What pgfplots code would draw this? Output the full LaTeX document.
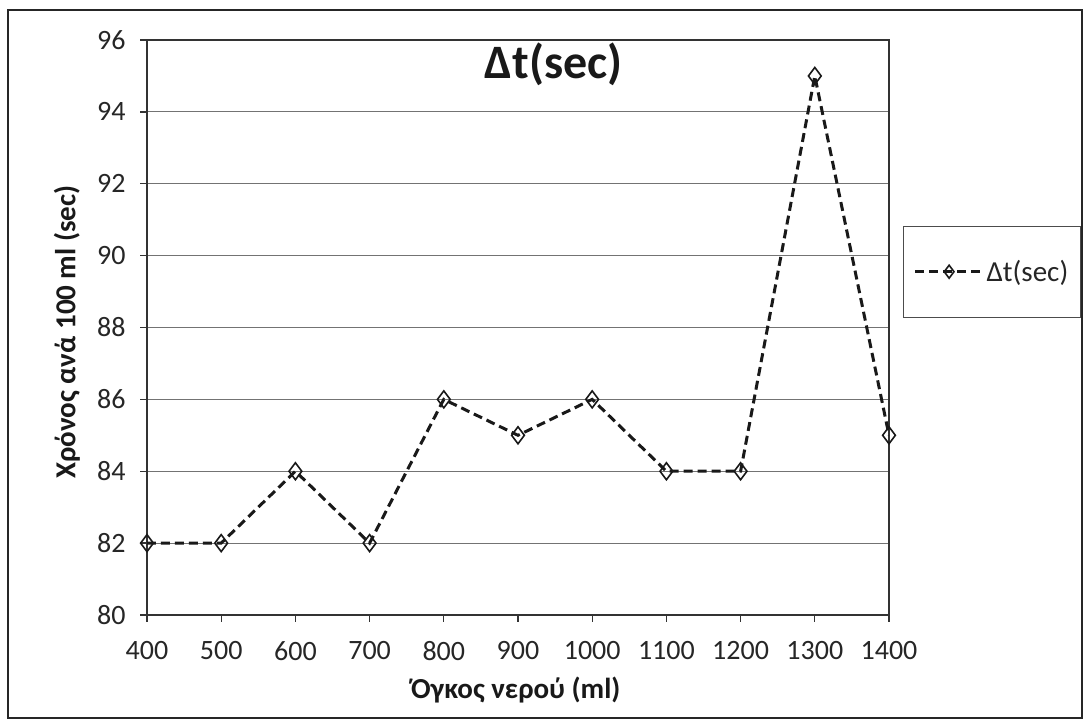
\documentclass[border=0pt]{standalone}
\usepackage{fontspec}
\setmainfont{Carlito}
\usepackage{pgfplots}
\pgfplotsset{compat=1.18}
\begin{document}
\begin{tikzpicture}
\path (-147pt,-107pt) rectangle (941pt,615pt);
\draw[line width=2.5pt, black!85] (-139pt,-103pt) rectangle (935pt,605pt);
\begin{axis}[anchor=south west, scale only axis,
  width=742pt, height=575pt,
  xmin=400, xmax=1400, ymin=80, ymax=96,
  xtick={400,500,...,1400}, ytick={80,82,...,96},
  ymajorgrids, grid style={black!55, line width=1pt},
  axis line style={black!80, line width=1.3pt},
  tick align=outside, major tick length=7pt,
  tick style={black!80, line width=1.3pt},
  xtick pos=bottom, ytick pos=left,
  ticklabel style={font=\fontsize{28}{32}\selectfont, text=black!85},
  xticklabel style={yshift=-16pt},
  yticklabel style={xshift=-11pt},
  /pgf/number format/assume math mode=true, /pgf/number format/1000 sep={},
  title={\textbf{Δt(sec)}},
  title style={at={(axis description cs:0.548,0.947)}, anchor=center, font=\fontsize{48}{54}\selectfont, text=black!90},
  xlabel={\textbf{Όγκος νερού (ml)}},
  xlabel style={at={(axis description cs:0.497,-0.13)}, anchor=center, font=\fontsize{29}{34}\selectfont, text=black!90},
  ylabel={\textbf{Χρόνος ανά 100 ml (sec)}},
  ylabel style={at={(axis description cs:-0.108,0.492)}, anchor=center, font=\fontsize{29}{34}\selectfont, text=black!90},
  legend style={at={(axis description cs:1.019,0.597)}, anchor=west, draw=black!70, line width=1pt,
    inner xsep=10pt, inner ysep=32pt, font=\fontsize{29}{34}\selectfont, text=black!85},
  legend cell align=left,
  legend image code/.code={\draw[mark repeat=2,mark phase=2,#1,mark size=6.5pt] plot coordinates {(0pt,0pt)(34pt,0pt)(68pt,0pt)};},
]
\addplot[black!90, line width=3pt, dash pattern=on 9pt off 5pt, mark=diamond, mark size=8.5pt,
  mark options={solid, fill=white, line width=1.6pt}]
  coordinates {(400,82)(500,82)(600,84)(700,82)(800,86)(900,85)(1000,86)(1100,84)(1200,84)(1300,95)(1400,85)};
\addlegendentry{Δt(sec)}
\end{axis}
\end{tikzpicture}
\end{document}
